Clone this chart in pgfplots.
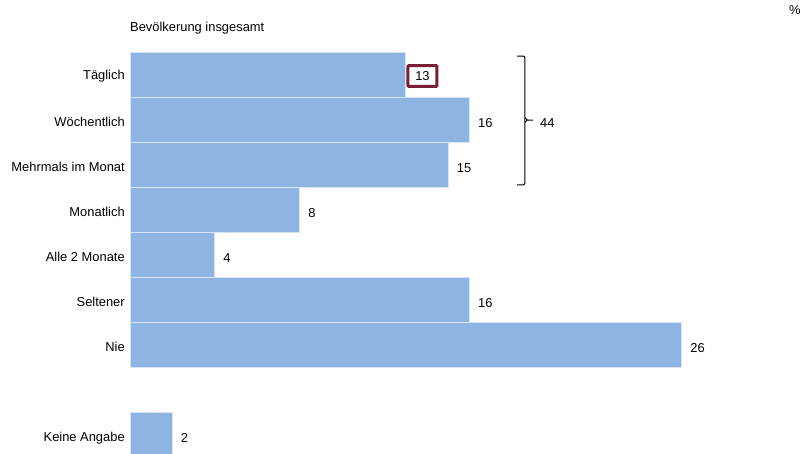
\documentclass[border=0pt]{standalone}
\usepackage{fontspec}
\setmainfont{Liberation Sans}
\usepackage{pgfplots}
\pgfplotsset{compat=1.18}
\definecolor{barblue}{HTML}{8EB4E3}
\definecolor{baredge}{HTML}{D6E4F5}
\definecolor{boxred}{HTML}{7A1E35}
\begin{document}
\begin{tikzpicture}[font=\fontsize{12.9}{15}\selectfont]
\begin{axis}[
  scale only axis, width=808pt, height=454pt,
  xmin=-6.1235, xmax=31.936, ymin=-1.6667, ymax=8.4222,
  y dir=reverse, axis lines=none,
  /pgf/number format/assume math mode=true,
  xbar, bar width=1, bar shift=0,
]
% Täglich with highlighted box
\addplot[fill=barblue, draw=baredge, line width=1pt, nodes near coords,
  nodes near coords style={anchor=west, draw=boxred, line width=3pt, rounded corners=1pt, inner xsep=7.3pt, inner ysep=5.8pt, text height=9.3pt, text depth=0pt, xshift=0.5pt, yshift=-1pt, text=black, font=\fontsize{12.9}{15}\selectfont}]
  coordinates {(13,0)};
\addplot[fill=barblue, draw=baredge, line width=1pt, nodes near coords,
  nodes near coords style={anchor=west, inner sep=0pt, xshift=8pt, yshift=-3pt, text=black, font=\fontsize{12.9}{15}\selectfont}]
  coordinates {(16,1) (15,2) (8,3) (4,4) (16,5) (26,6) (2,8)};
% category labels
\begin{scope}[every node/.style={anchor=east, inner sep=0pt, yshift=-1.5pt}]
\node at (axis cs:-0.24,0) {Täglich};
\node at (axis cs:-0.24,1) {Wöchentlich};
\node at (axis cs:-0.24,2) {Mehrmals im Monat};
\node at (axis cs:-0.24,3) {Monatlich};
\node at (axis cs:-0.24,4) {Alle 2 Monate};
\node at (axis cs:-0.24,5) {Seltener};
\node at (axis cs:-0.24,6) {Nie};
\node at (axis cs:-0.24,8.03) {Keine Angabe};
\end{scope}
% title and unit
\node[anchor=west, inner sep=0pt] at (axis cs:0,-1.05) {Bevölkerung insgesamt};
\node[inner sep=0pt] at (axis cs:31.32,-1.444) {\%};
% brace
\draw[line width=1pt, rounded corners=2pt]
  (axis cs:18.23,-0.422) -- (axis cs:18.60,-0.422) -- (axis cs:18.60,1.0) -- (axis cs:18.60,2.444) -- (axis cs:18.23,2.444);
\draw[line width=1pt]
  (axis cs:18.60,0.95) -- (axis cs:18.72,1.0) -- (axis cs:18.98,1.0)
  (axis cs:18.72,1.0) -- (axis cs:18.60,1.05);
\node[anchor=west, inner sep=0pt] at (axis cs:19.31,1.07) {44};
\end{axis}
\pgfresetboundingbox
\path[use as bounding box] (current axis.south west) rectangle (current axis.north east);
\end{tikzpicture}
\end{document}
